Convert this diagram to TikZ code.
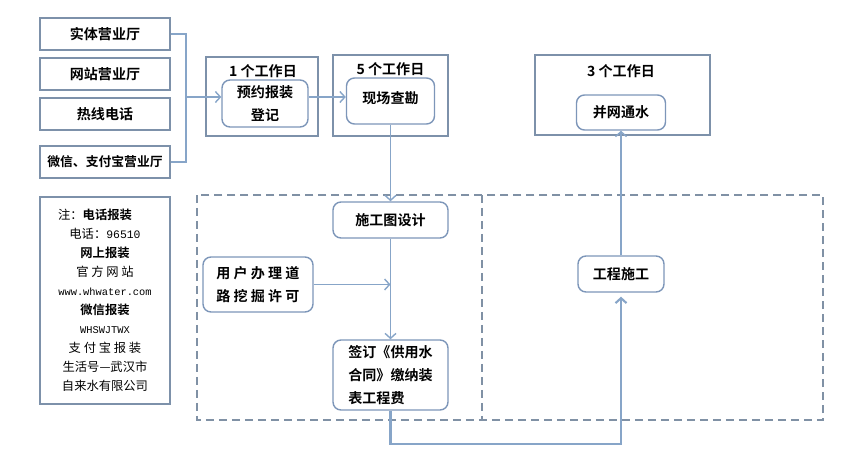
\documentclass[tikz,border=0pt]{standalone}
\usepackage{fontspec}
\setmainfont{Noto Sans CJK SC}[BoldFont={Noto Sans CJK SC Bold}]
\setmonofont{Liberation Mono}
\usetikzlibrary{arrows.meta}

\definecolor{framec}{RGB}{125,145,170}
\definecolor{taskc}{RGB}{125,150,185}
\definecolor{linkc}{RGB}{135,165,200}
\definecolor{dashc}{RGB}{128,145,165}

\begin{document}
\begin{tikzpicture}[x=0.02cm, y=-0.02cm,
  sz/.style 2 args={minimum width=#1*0.02cm, minimum height=#2*0.02cm, inner sep=0pt},
  src/.style={draw=framec, line width=1.5pt, font=\fontsize{8}{10}\selectfont\bfseries},
  day/.style={draw=framec, line width=1.6pt},
  task/.style={draw=taskc, line width=0.8pt, rounded corners=1.6mm, fill=white, align=center, font=\fontsize{8}{13}\selectfont\bfseries},
  tag/.style={font=\fontsize{8}{10}\selectfont\bfseries},
  link/.style={draw=linkc, line width=0.8pt},
  arr/.style={link, -{Straight Barb[length=1mm,width=2.2mm]}},
  frame/.style={draw=dashc, line width=1.1pt, dash pattern=on 1.6mm off 1mm}
]
\useasboundingbox (0,0) rectangle (864,473);

% Channels
\node[src, sz={130}{32}] (shop)    at (105,34)  {实体营业厅};
\node[src, sz={130}{32}] (web)     at (105,74)  {网站营业厅};
\node[src, sz={130}{32}] (hotline) at (105,114) {热线电话};
\node[src, sz={130}{32}, font=\fontsize{7.3}{10}\selectfont\bfseries] (mobile) at (105,162) {微信、支付宝营业厅};
\coordinate (bus) at (186,97);

% Note
\node[draw=framec, line width=1.5pt, sz={130}{207}, align=center, font=\fontsize{7}{10.8}\selectfont] (note) at (105,300.5)
  {注：\textbf{电话报装}\hspace*{4mm}\\ 电话：{\ttfamily\fontsize{6.5}{10.8}\selectfont 96510}\\ \textbf{网上报装}\\ 官 方 网 站\\
   {\ttfamily\fontsize{5.9}{10.8}\selectfont www.whwater.com}\\ \textbf{微信报装}\\ {\ttfamily\fontsize{5.9}{10.8}\selectfont WHSWJTWX}\\
   支 付 宝 报 装\\ 生活号—武汉市\\ 自来水有限公司};

% Work frame
\draw[frame] (197,195) rectangle (823,420);
\draw[frame] (482,195) -- (482,420);

% Stage 1
\node[day, sz={112}{79}] (day1) at (262,96.5) {};
\node[tag] (day1t) at (263,71) {1 个工作日};
\node[task, sz={86}{47}] (reg) at (265,103.5) {预约报装\\登记};

% Stage 2
\node[day, sz={115}{81}] (day2) at (390.5,95.5) {};
\node[tag] (day2t) at (390.5,69) {5 个工作日};
\node[task, sz={88}{46}] (survey) at (390.5,101) {\raisebox{1.2mm}{现场查勘}};

% Stage 3
\node[day, sz={175}{80}] (day3) at (622.5,95) {};
\node[tag] (day3t) at (621,71) {3 个工作日};
\node[task, sz={89}{35}] (join) at (621,112.5) {并网通水};

% Inside the frame
\node[task, sz={115}{36}] (design) at (390.5,220) {施工图设计};
\node[task, sz={110}{55}] (permit) at (258,284.5) {用 户 办 理 道\\路 挖 掘 许 可};
\node[task, sz={115}{70}, align=left] (contract) at (390.5,375) {签订《供用水\\合同》缴纳装\\表工程费};
\node[task, sz={86}{36}] (build) at (621,274) {工程施工};

% Connectors
\draw[link] (shop.east) -| (bus) |- (mobile.east);
\draw[arr] (bus) -- (reg.west |- bus);
\draw[arr] (reg.east |- bus) -- (survey.west |- bus);
\draw[arr] (survey.south) -- (design.north);
\draw[arr] (design.south) -- (contract.north);
\draw[arr] (permit.east) -- (permit.east -| design.south);
\draw[arr, line width=1.2pt, shorten >=0.8mm] (contract.south) -- ++(0,33) -| (build.south);
\draw[arr] (build.north) -- (join.south);

\end{tikzpicture}
\end{document}
